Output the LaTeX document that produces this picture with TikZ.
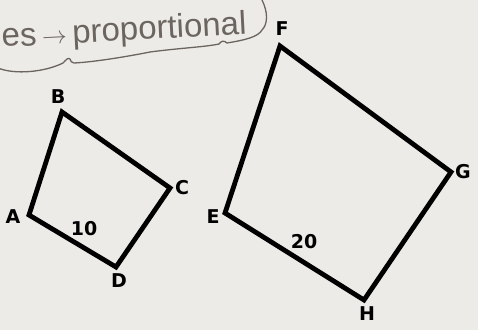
\documentclass[tikz,border=0pt]{standalone}
\usepackage{fontspec}
\setsansfont{DejaVu Sans}
\newfontfamily\notefont{Liberation Sans}
\usetikzlibrary{positioning, calc}
\definecolor{paper}{RGB}{236,235,231}
\definecolor{pencil}{RGB}{108,100,94}

\begin{document}
\begin{tikzpicture}[x=1pt, y=-1pt, font=\sffamily\bfseries\fontsize{19}{19}\selectfont,
  side/.style={line width=4.8pt, line join=miter},
  vlabel/.style={inner sep=0pt},
  note/.style={pencil, line width=1.3pt, line cap=round, line join=round}]
  \fill[paper] (0,0) rectangle (478,330);
  \useasboundingbox (0,0) rectangle (478,330);
  \clip (0,0) rectangle (478,330);

  % small quadrilateral
  \coordinate (A) at (29,215);
  \coordinate (B) at (62,112);
  \coordinate (C) at (170,188);
  \coordinate (D) at (116,267);
  \draw[side] (A)--(B)--(C)--(D)--cycle;
  \node[vlabel] (labA) at (13,217){A};
  \node[vlabel] (labB) at (58,97){B};
  \node[vlabel] (labC) at (182,188){C};
  \node[vlabel] (labD) at (119,281){D};
  \node[vlabel] (sideAD) at (84,229){10};

  % large quadrilateral
  \coordinate (E) at (225,213);
  \coordinate (F) at (280,46);
  \coordinate (G) at (451,172);
  \coordinate (H) at (364,300);
  \draw[side] (E)--(F)--(G)--(H)--cycle;
  \node[vlabel] (labE) at (213,217){E};
  \node[vlabel] (labF) at (282,29){F};
  \node[vlabel] (labG) at (463,172){G};
  \node[vlabel] (labH) at (367,314){H};
  \node[vlabel] (sideEH) at (304,242){20};

  % pencil note
  \draw[note] (-2,68) .. controls (15,75) and (45,72) .. (63,63)
    .. controls (66,60) and (68,57) .. (70,59) .. controls (71,61) and (71,63) .. (74,63)
    .. controls (95,62) and (130,56) .. (150,52)
    .. controls (180,48) and (205,47) .. (219,44)
    .. controls (221,41) and (224,40) .. (227,43)
    .. controls (245,40) and (258,37) .. (262,30)
    .. controls (268,24) and (268,12) .. (262,0);
  \node[pencil, inner sep=0pt, anchor=base west, rotate=3, font=\notefont\fontsize{33}{33}\selectfont]
    (remark) at (2,47) {es\,\(\rightarrow\)\,proportional};
\end{tikzpicture}
\end{document}
